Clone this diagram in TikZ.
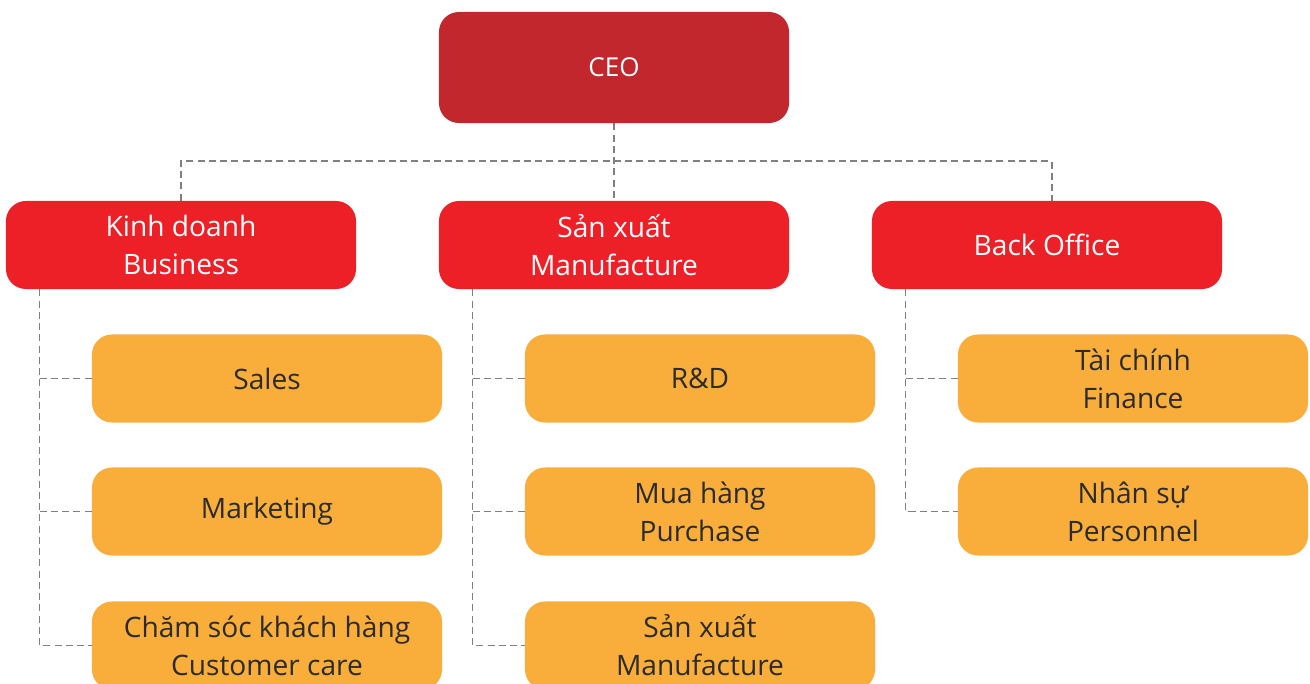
\documentclass[tikz,border=0pt]{standalone}
\usepackage{fontspec}
\setmainfont{Open Sans}
\usetikzlibrary{positioning}

\definecolor{ceored}{HTML}{C1272D}
\definecolor{deptred}{HTML}{ED2028}
\definecolor{unitorange}{HTML}{F9AE3C}
\definecolor{textdark}{HTML}{2B2B2B}
\definecolor{linegray}{HTML}{808080}

\begin{document}
\begin{tikzpicture}[x=0.025cm, y=-0.025cm,
	box/.style={rounded corners=0.5cm, minimum width=8.75cm, minimum height=2.2cm,
		inner sep=0pt, align=center, font=\fontsize{20}{27}\selectfont},
	topbox/.style={box, fill=ceored, text=white, minimum height=2.775cm,
		font=\fontsize{18.5}{24}\selectfont},
	deptbox/.style={box, fill=deptred, text=white},
	unitbox/.style={box, fill=unitorange, text=textdark},
	link/.style={draw=linegray, line width=0.8pt, dash pattern=on 5pt off 3pt}]
	% Parameters (in px of the page)
	\def\colA{181}   % centre of first column
	\def\colB{614}   % centre of second column
	\def\colC{1047}  % centre of third column
	\def\sub{86}     % shift of the sub boxes to the right
	\def\drop{0.85cm} % distance of the drop line from the box edge
	
	\useasboundingbox (0,0) rectangle (1310,684);
	
	% Top
	\node[topbox] (ceo) at (\colB,67.5) {CEO};
	
	% Departments
	\node[deptbox] (biz)  at (\colA,245) {Kinh doanh\\Business};
	\node[deptbox] (mfg)  at (\colB,245) {Sản xuất\\Manufacture};
	\node[deptbox] (back) at (\colC,245) {Back Office};
	
	% Units
	\node[unitbox] (sales) at (\colA+\sub,378.5) {Sales};
	\node[unitbox] (mkt)   at (\colA+\sub,511.5) {Marketing};
	\node[unitbox] (care)  at (\colA+\sub,645.5) {Chăm sóc khách hàng\\Customer care};
	
	\node[unitbox] (rd)    at (\colB+\sub,378.5) {R\&D};
	\node[unitbox] (buy)   at (\colB+\sub,511.5) {Mua hàng\\Purchase};
	\node[unitbox] (prod)  at (\colB+\sub,645.5) {Sản xuất\\Manufacture};
	
	\node[unitbox] (fin)   at (\colC+\sub,378.5) {Tài chính\\Finance};
	\node[unitbox] (hr)    at (\colC+\sub,511.5) {Nhân sự\\Personnel};
	
	% CEO to departments
	\coordinate (bus) at (\colB,161);
	\draw[link] (ceo.south) -- (mfg.north);
	\draw[link] (biz.north) |- (bus) -| ([xshift=0.125cm]back.north);
	
	% Drop lines
	\coordinate (bizdrop)  at ([xshift=\drop]biz.south west);
	\coordinate (mfgdrop)  at ([xshift=\drop]mfg.south west);
	\coordinate (backdrop) at ([xshift=\drop]back.south west);
	
	\draw[link] (bizdrop) |- (care.west);
	\draw[link] (bizdrop |- sales.west) -- (sales.west);
	\draw[link] (bizdrop |- mkt.west) -- (mkt.west);
	
	\draw[link] (mfgdrop) |- (prod.west);
	\draw[link] (mfgdrop |- rd.west) -- (rd.west);
	\draw[link] (mfgdrop |- buy.west) -- (buy.west);
	
	\draw[link] (backdrop) |- (hr.west);
	\draw[link] (backdrop |- fin.west) -- (fin.west);
	
\end{tikzpicture}
\end{document}
